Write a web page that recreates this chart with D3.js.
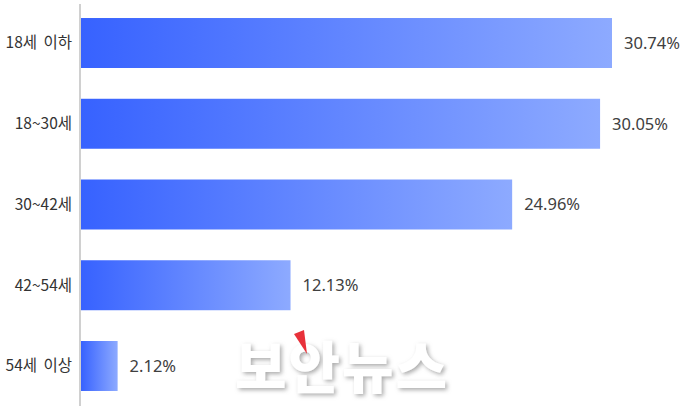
<!DOCTYPE html>
<html><head><meta charset="utf-8">
<script src="https://cdn.jsdelivr.net/npm/d3@7"></script>
<style>html,body{margin:0;padding:0;background:#fff;}svg{display:block;}</style>
</head><body>
<svg id="c" width="686" height="406"></svg>
<script>
const categories = ["18세 이하", "18~30세", "30~42세", "42~54세", "54세 이상"];
const values = [30.74, 30.05, 24.96, 12.13, 2.12];
const valueLabels = ["30.74%", "30.05%", "24.96%", "12.13%", "2.12%"];

const svg = d3.select("#c");
const x0 = 81;
const x = d3.scaleLinear().domain([0, 30.74]).range([x0, 612]);
const y = d3.scaleBand().domain(categories).range([3, 406]).paddingInner(0.381).paddingOuter(0.186);

const defs = svg.append("defs");
const g = defs.append("linearGradient").attr("id", "grad").attr("x1", "0").attr("x2", "1").attr("y1", "0").attr("y2", "0");
g.append("stop").attr("offset", "0%").attr("stop-color", "#3762ff");
g.append("stop").attr("offset", "100%").attr("stop-color", "#8daaff");

const f = defs.append("filter").attr("id", "sh").attr("x", "-10%").attr("y", "-10%").attr("width", "130%").attr("height", "130%");
f.append("feDropShadow").attr("dx", 2).attr("dy", 2).attr("stdDeviation", 2).attr("flood-color", "#888").attr("flood-opacity", 0.7);

svg.selectAll("rect.bar").data(values).join("rect").attr("class", "bar")
  .attr("x", x0).attr("y", (d, i) => y(categories[i]))
  .attr("width", d => x(d) - x0).attr("height", y.bandwidth())
  .attr("fill", "url(#grad)");

svg.append("line").attr("x1", 80).attr("x2", 80).attr("y1", 4).attr("y2", 406)
  .attr("stroke", "#d0d0d0").attr("stroke-width", 2);

svg.selectAll("text.cat").data(categories).join("text").attr("class", "cat")
  .attr("x", 72).attr("y", d => y(d) + y.bandwidth() / 2)
  .attr("dy", "0.35em").attr("text-anchor", "end")
  .attr("font-family", "'Noto Sans CJK KR', 'Noto Sans', sans-serif").attr("font-size", 15.5)
  .attr("word-spacing", 3)
  .attr("fill", "#333").text(d => d);

svg.selectAll("text.val").data(values).join("text").attr("class", "val")
  .attr("x", d => x(d) + 12).attr("y", (d, i) => y(categories[i]) + y.bandwidth() / 2)
  .attr("dy", "0.35em").attr("text-anchor", "start")
  .attr("font-family", "'Noto Sans', 'Open Sans', sans-serif").attr("font-size", 16.5)
  .attr("fill", "#404040").text((d, i) => valueLabels[i]);

// watermark
svg.append("text").attr("x", 342).attr("y", 388).attr("text-anchor", "middle")
  .attr("font-family", "'Noto Sans CJK KR', sans-serif").attr("font-weight", 900)
  .attr("font-size", 56).attr("fill", "#fff").attr("filter", "url(#sh)")
  .attr("letter-spacing", 2).text("보안뉴스");
svg.append("path").attr("d", "M294,334 L304,330 L307,354 Z").attr("fill", "#e8313a");
</script>
</body></html>
